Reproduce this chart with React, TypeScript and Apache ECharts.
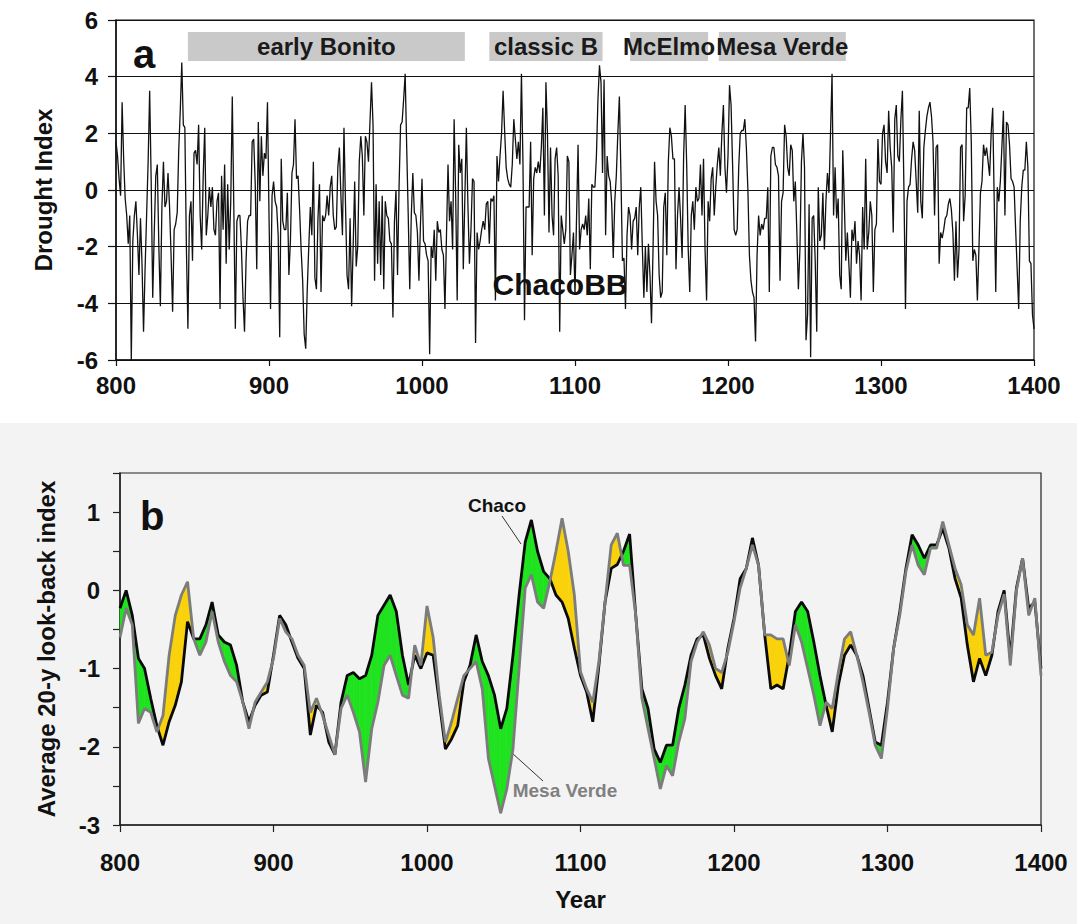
import React, { useEffect, useRef } from 'react';
import * as echarts from 'echarts';

const FONT = "'Liberation Sans', Arial, Helvetica, sans-serif";

// ---------- Panel a: annual drought index (ChacoBB), 800–1400 ----------
const droughtStartYear = 800;
const droughtIndex: number[] = [
  1.7, 1.2, 0.4, -0.2, 3.1, 1.1, -0.3, -0.9, -1.9, -0.9,
  -6.0, -1.8, -0.9, -0.4, -1.6, -3.0, -1.0, -2.6, -5.0, -2.8,
  -0.9, 1.0, 3.5, 0.3, -3.8, -1.5, 0.5, 0.9, -2.0, -4.1,
  -0.6, 1.0, -0.6, -0.4, 0.6, -0.6, -2.3, -4.3, -1.4, -1.2,
  -0.8, 1.4, 2.8, 4.5, 2.3, 2.2, -2.0, -4.9, -0.9, -0.4,
  -2.5, 1.3, 1.4, 0.9, 2.3, -0.9, -2.1, 0.5, 2.2, -1.6,
  -0.9, 0.1, -0.6, 0.1, -1.4, -1.6, -0.4, -0.1, -4.2, 0.5,
  -1.4, 0.9, -2.6, 0.2, -2.1, -0.4, 3.3, -0.6, -4.9, -1.1,
  -0.9, -0.9, -2.1, -3.8, -5.0, -2.5, -1.1, -0.9, -0.9, 1.7,
  1.8, 0.2, -2.8, 2.4, -0.4, 1.9, 0.5, 1.3, 1.1, 3.1,
  -0.9, -4.2, -0.2, 0.3, -0.4, -0.6, -1.6, -5.2, 1.1, -1.1,
  -1.4, -1.4, -0.1, -3.0, -1.8, 0.6, 0.9, 2.5, 0.4, 0.5,
  -0.7, -2.1, -3.2, -5.1, -5.6, -3.5, -2.0, -0.6, -1.6, 1.0,
  -3.1, -3.5, -1.0, 0.2, -3.6, -0.9, -1.1, -0.9, -0.2, -0.9,
  0.1, 0.5, -0.9, -1.4, -1.3, 0.8, 1.5, -0.2, -1.6, 2.2,
  -0.5, -3.0, -3.5, -1.0, -4.1, -2.0, 0.3, -2.7, -2.0, 1.0,
  1.9, 1.2, -0.9, 1.9, 1.7, 1.0, 2.4, 3.8, 2.3, -3.2,
  0.2, -2.6, -0.4, -3.0, -0.2, -3.5, -0.4, -0.9, -1.0, -1.8,
  -1.9, -4.5, -1.1, 0.0, -3.0, 0.1, 2.3, 2.4, 3.2, 4.1,
  1.5, -0.9, -3.5, -0.9, 0.6, -0.8, -0.9, -1.5, -3.2, -1.2,
  0.4, -1.8, -1.9, -2.3, -2.5, -5.8, -2.0, -2.4, -1.4, -3.2,
  -1.1, -1.5, -1.4, -2.1, -2.3, -4.2, -1.6, 0.9, -1.1, -0.4,
  -2.1, 2.5, -0.2, -3.9, 1.6, 0.6, 1.1, -2.8, -0.3, 2.2,
  -0.5, -2.6, -1.4, 0.4, 0.3, -5.4, -1.5, -2.1, -1.8, -1.4,
  -1.1, -1.4, -0.5, -0.4, -1.9, -0.3, -0.4, -0.2, -3.9, 1.2,
  0.3, 1.2, 2.0, 3.5, 2.1, 0.8, 0.4, 0.2, 0.1, 0.9,
  2.5, 1.8, 1.1, 1.7, 0.9, 4.1, 0.9, -4.6, -0.6, -0.6,
  -0.6, 1.7, -2.3, 0.4, 0.8, 0.6, 1.0, 0.6, 1.5, 2.9,
  -0.9, 3.8, 2.0, -1.5, 1.5, -0.9, -1.6, 1.1, 1.5, 0.5,
  -5.0, -0.9, -1.4, -1.9, -1.4, 1.2, 1.0, -3.0, -2.3, -1.5,
  -3.7, -1.0, 1.6, -2.1, -1.4, -1.2, -1.4, -0.9, -1.6, -0.3,
  -2.8, 0.2, 0.1, 0.1, 1.2, 3.2, 4.4, 3.8, 0.6, 3.9,
  -1.6, 1.2, 0.5, 0.3, -0.5, -2.4, -0.4, 0.5, 2.0, 3.3,
  0.6, -2.5, -2.4, -4.2, -1.6, -0.6, -0.9, -2.1, -1.1, -1.0,
  -0.6, -2.3, -0.6, 0.1, -2.0, -3.8, -2.0, -3.6, -1.9, -3.0,
  -4.7, -2.1, 1.0, -0.4, -0.9, -3.0, -3.8, -3.6, -0.6, -0.1,
  -2.3, 1.0, 2.2, 1.9, 1.1, 1.1, -2.8, -0.9, 0.1, -1.0,
  -2.4, 1.2, 3.0, 0.9, -2.1, -3.6, -0.9, -0.4, -1.4, 0.1,
  -0.4, -0.3, 0.9, -0.9, 1.1, -2.1, -3.9, -0.4, -1.1, 0.4,
  0.8, -0.9, 0.1, 0.9, 1.5, 0.5, 2.0, 3.0, 0.8, -0.1,
  1.2, 3.7, 3.0, 0.9, -1.4, -1.6, -1.4, 0.8, 2.0, 2.1,
  2.1, 2.5, 1.5, 0.0, -2.3, -3.2, -3.6, -3.8, -5.35, -2.3,
  -0.9, -1.6, -1.2, -1.4, -1.0, -1.0, 0.1, -3.6, 1.2, 1.5,
  1.5, 0.9, 0.8, 0.5, -3.2, -0.4, -0.1, 2.3, 1.9, 0.8,
  0.5, 1.6, 1.4, -0.4, 0.3, -1.5, -3.5, -2.1, 1.0, 2.0,
  0.8, -5.3, -4.4, -0.5, -5.9, -1.0, -0.9, -2.5, -5.0, 0.1,
  -1.8, -1.6, -0.1, -2.1, -0.4, 0.6, -0.1, 2.0, 4.1, -0.9,
  0.8, -1.0, -0.3, -3.0, -3.5, 1.4, -0.4, -2.5, -1.5, -2.6,
  -3.8, -1.4, -1.8, -1.1, -2.6, -1.8, -2.3, -3.9, -0.6, -2.1,
  1.1, -2.1, -1.5, -0.4, -0.9, -3.6, -1.4, -1.2, 1.8, 0.3,
  0.2, 2.0, 2.3, 1.0, 0.6, 2.8, 1.5, 0.8, -1.5, 2.5,
  3.0, 1.2, 1.0, 2.5, 3.5, 0.0, -4.2, -0.4, 0.1, 0.2,
  1.1, 1.7, 1.4, 0.3, -0.8, 2.8, -0.4, -1.0, 1.5, 2.1,
  2.6, 2.9, 3.1, 2.6, 1.7, -0.9, 1.5, 1.6, -2.6, -1.5,
  -1.7, -1.4, -1.0, -0.9, -0.5, -0.3, -0.7, -1.5, -3.2, -1.1,
  -3.1, -2.1, 1.5, 1.6, -1.1, -0.2, 2.9, 2.9, 3.6, 1.7,
  -2.5, -2.1, -2.3, -3.9, -2.1, -0.1, 0.3, 1.6, 1.2, 1.5,
  1.0, 0.5, 2.0, 2.9, -0.4, -3.6, 0.1, -0.4, 0.3, 1.5,
  2.8, -0.9, 2.4, 2.3, 1.6, 0.4, 0.3, 0.1, -1.4, -2.8,
  -4.2, -1.1, 0.1, 0.7, 0.7, 1.7, 0.8, -2.5, -2.6, -4.4,
  -4.9,
];

// Cultural periods (bars in panel a)
const periodNames = ['early Bonito', 'classic B', 'McElmo', 'Mesa Verde'];
const periodStart = [847, 1044, 1136, 1194];
const periodEnd = [1028, 1118, 1187, 1277];
const periodBand = [4.55, 5.58]; // drought-index range occupied by the period bars

// ---------- Panel b: 20-y look-back averages, every 4 years ----------
const lookbackStartYear = 800;
const lookbackStep = 4;
const chacoLookback: number[] = [
  -0.23, 0.0, -0.32, -0.87, -1.0, -1.38, -1.73, -1.98, -1.68, -1.47,
  -1.17, -0.4, -0.62, -0.62, -0.44, -0.15, -0.57, -0.66, -0.7, -0.96,
  -1.43, -1.68, -1.47, -1.34, -1.3, -0.83, -0.32, -0.44, -0.66, -0.87,
  -1.0, -1.85, -1.47, -1.56, -1.94, -2.1, -1.43, -1.09, -1.05, -1.13,
  -1.09, -0.83, -0.32, -0.19, -0.06, -0.27, -0.83, -1.21, -0.83, -1.0,
  -0.8, -0.83, -1.43, -2.03, -1.9, -1.73, -1.17, -0.96, -0.57, -0.91,
  -1.09, -1.34, -1.77, -1.51, -0.83, -0.06, 0.62, 0.9, 0.5, 0.24,
  0.15, -0.06, -0.15, -0.36, -0.74, -1.09, -1.3, -1.68, -0.96, -0.15,
  0.28, 0.33, 0.5, 0.72, -0.32, -1.26, -1.51, -2.03, -2.2, -1.98,
  -1.98, -1.51, -1.21, -0.83, -0.62, -0.57, -0.87, -1.09, -1.26, -0.74,
  -0.36, 0.15, 0.28, 0.67, 0.32, -0.57, -1.26, -1.21, -1.26, -0.83,
  -0.27, -0.15, -0.27, -0.66, -1.09, -1.47, -1.81, -1.21, -0.83, -0.7,
  -0.83, -1.09, -1.51, -1.94, -1.98, -1.43, -0.74, -0.27, 0.28, 0.71,
  0.58, 0.41, 0.58, 0.58, 0.79, 0.54, 0.15, -0.1, -0.7, -1.17,
  -0.87, -1.09, -0.83, -0.27, 0.0, -0.87, 0.03, 0.41, -0.23, -0.15,
  -1.0,
];
const mesaVerdeLookback: number[] = [
  -0.6, -0.23, -0.44, -1.7, -1.51, -1.56, -1.81, -1.6, -0.83, -0.32,
  -0.06, 0.11, -0.62, -0.83, -0.66, -0.27, -0.66, -0.91, -1.09, -1.17,
  -1.43, -1.77, -1.43, -1.3, -1.17, -0.87, -0.36, -0.53, -0.62, -0.83,
  -0.96, -1.56, -1.38, -1.6, -1.85, -2.1, -1.51, -1.34, -1.56, -1.81,
  -2.45, -1.77, -1.43, -0.96, -0.83, -1.09, -1.34, -1.38, -0.7, -0.96,
  -0.2, -0.6, -1.34, -1.94, -1.68, -1.38, -1.09, -1.0, -0.91, -1.26,
  -2.15, -2.5, -2.85, -2.54, -2.03, -1.0, 0.03, 0.2, -0.15, -0.23,
  0.11, 0.5, 0.92, 0.5, -0.06, -1.04, -1.26, -1.43, -0.91, -0.15,
  0.58, 0.73, 0.32, 0.32, -0.32, -1.38, -1.77, -2.15, -2.54, -2.24,
  -2.37, -1.94, -1.64, -0.91, -0.66, -0.53, -0.7, -1.0, -1.05, -0.79,
  -0.4, 0.03, 0.28, 0.58, 0.32, -0.57, -0.57, -0.62, -0.62, -0.96,
  -0.44, -0.66, -1.0, -1.34, -1.73, -1.43, -1.51, -1.04, -0.62, -0.53,
  -0.83, -1.17, -1.56, -1.98, -2.15, -1.51, -0.74, -0.32, 0.24, 0.58,
  0.32, 0.2, 0.54, 0.54, 0.88, 0.58, 0.28, 0.07, -0.44, -0.57,
  -0.1, -0.83, -0.79, -0.32, -0.05, -0.96, 0.0, 0.41, -0.32, -0.1,
  -1.09,
];

const GREEN = '#1fe31f';
const YELLOW = '#f9d20c';

const boldLabel = { fontFamily: FONT, fontWeight: 'bold' as const, fontSize: 24, color: '#111' };
const plainNumber = (v: number) => String(v);

export default function App() {
  const ref = useRef<HTMLDivElement>(null);

  useEffect(() => {
    if (!ref.current) return;
    const chart = echarts.init(ref.current, undefined, { renderer: 'svg' });

    const topData = droughtIndex.map((v, i) => [droughtStartYear + i, v]);
    const lbYears = chacoLookback.map((_, i) => lookbackStartYear + i * lookbackStep);
    const chacoData = chacoLookback.map((v, i) => [lbYears[i], v]);
    const mesaData = mesaVerdeLookback.map((v, i) => [lbYears[i], v]);
    const fillData: number[][] = [];
    for (let i = 0; i < lbYears.length - 1; i++) {
      fillData.push([
        lbYears[i], chacoLookback[i], mesaVerdeLookback[i],
        lbYears[i + 1], chacoLookback[i + 1], mesaVerdeLookback[i + 1],
      ]);
    }

    const option: any = {
      animation: false,
      textStyle: { fontFamily: FONT },
      grid: [
        { left: 116, top: 20, width: 918, height: 340, show: true, borderColor: '#111', borderWidth: 1.2, backgroundColor: '#ffffff' },
        { left: 120, top: 473, width: 921, height: 352, show: true, borderColor: '#222', borderWidth: 1.2, backgroundColor: 'transparent' },
      ],
      xAxis: [
        {
          gridIndex: 0, type: 'value', min: 800, max: 1400, interval: 100,
          axisLine: { onZero: false, lineStyle: { color: '#111', width: 1.5 } },
          axisTick: { show: true, length: 6, lineStyle: { color: '#111', width: 1.2 } },
          axisLabel: { ...boldLabel, margin: 13, formatter: plainNumber },
          splitLine: { show: false },
        },
        {
          gridIndex: 1, type: 'value', min: 800, max: 1400, interval: 100,
          axisLine: { onZero: false, lineStyle: { color: '#222', width: 1.5 } },
          axisTick: { show: true, length: 7, lineStyle: { color: '#222', width: 1.2 } },
          axisLabel: { ...boldLabel, margin: 25, formatter: plainNumber },
          splitLine: { show: false },
          name: 'Year', nameLocation: 'middle', nameGap: 62,
          nameTextStyle: { ...boldLabel },
        },
      ],
      yAxis: [
        {
          gridIndex: 0, type: 'value', min: -6, max: 6, interval: 2,
          axisLine: { show: true, onZero: false, lineStyle: { color: '#111', width: 1.5 } },
          axisTick: { show: true, length: 8, lineStyle: { color: '#111', width: 1.2 } },
          axisLabel: { ...boldLabel, margin: 18, formatter: plainNumber },
          splitLine: { show: true, lineStyle: { color: '#111', width: 1 } },
          name: 'Drought Index', nameLocation: 'middle', nameGap: 61, nameRotate: 90,
          nameTextStyle: { ...boldLabel },
        },
        {
          gridIndex: 1, type: 'value', min: -3, max: 1.5, interval: 0.5,
          axisLine: { show: true, onZero: false, lineStyle: { color: '#222', width: 1.5 } },
          axisTick: { show: true, length: 7, lineStyle: { color: '#222', width: 1.2 } },
          axisLabel: {
            ...boldLabel, margin: 20,
            formatter: (v: number) => (Number.isInteger(v) ? String(v) : ''),
          },
          splitLine: { show: false },
          name: 'Average 20-y look-back index', nameLocation: 'middle', nameGap: 62, nameRotate: 90,
          nameTextStyle: { ...boldLabel },
        },
      ],
      series: [
        {
          type: 'line', xAxisIndex: 0, yAxisIndex: 0, data: topData,
          showSymbol: false, symbol: 'none',
          lineStyle: { color: '#111', width: 1.3 },
          z: 3,
          markArea: {
            silent: true,
            itemStyle: { color: '#c9c9c9', opacity: 1 },
            label: { show: true, position: 'inside', ...boldLabel, color: '#1a1a1a' },
            data: periodNames.map((n, i) => [
              { name: n, xAxis: periodStart[i], yAxis: periodBand[1] },
              { xAxis: periodEnd[i], yAxis: periodBand[0] },
            ]),
          },
        },
        {
          type: 'custom', xAxisIndex: 1, yAxisIndex: 1, data: fillData, silent: true, z: 2,
          encode: { x: [0, 3], y: [1, 2, 4, 5] },
          renderItem: (params: any, api: any) => {
            const x0 = api.value(0), c0 = api.value(1), m0 = api.value(2);
            const x1 = api.value(3), c1 = api.value(4), m1 = api.value(5);
            const d0 = c0 - m0, d1 = c1 - m1;
            const P = (x: number, y: number) => api.coord([x, y]);
            const poly = (pts: number[][], up: boolean) => ({
              type: 'polygon',
              shape: { points: pts },
              style: { fill: up ? GREEN : YELLOW, stroke: up ? GREEN : YELLOW, lineWidth: 0.6 },
            });
            const children: any[] = [];
            if (d0 * d1 >= 0) {
              children.push(poly([P(x0, c0), P(x1, c1), P(x1, m1), P(x0, m0)], d0 + d1 >= 0));
            } else {
              const t = d0 / (d0 - d1);
              const xc = x0 + t * (x1 - x0);
              const yc = c0 + t * (c1 - c0);
              children.push(poly([P(x0, c0), P(xc, yc), P(x0, m0)], d0 > 0));
              children.push(poly([P(xc, yc), P(x1, c1), P(x1, m1)], d1 > 0));
            }
            return { type: 'group', children };
          },
        },
        {
          type: 'line', name: 'Chaco', xAxisIndex: 1, yAxisIndex: 1, data: chacoData,
          showSymbol: false, symbol: 'none', z: 3,
          lineStyle: { color: '#0a0a0a', width: 2.8 },
        },
        {
          type: 'line', name: 'Mesa Verde', xAxisIndex: 1, yAxisIndex: 1, data: mesaData,
          showSymbol: false, symbol: 'none', z: 4,
          lineStyle: { color: '#7c7c7c', width: 2.8 },
        },
      ],
      graphic: [
        { type: 'text', x: 133, y: 54, style: { text: 'a', fontFamily: FONT, fontWeight: 'bold', fontSize: 40, fill: '#111', textAlign: 'left', textVerticalAlign: 'middle' } },
        { type: 'text', x: 560, y: 284, style: { text: 'ChacoBB', fontFamily: FONT, fontWeight: 'bold', fontSize: 30, fill: '#111', textAlign: 'center', textVerticalAlign: 'middle' } },
        { type: 'text', x: 140, y: 516, style: { text: 'b', fontFamily: FONT, fontWeight: 'bold', fontSize: 40, fill: '#111', textAlign: 'left', textVerticalAlign: 'middle' } },
        { type: 'text', x: 497, y: 505, style: { text: 'Chaco', fontFamily: FONT, fontWeight: 'bold', fontSize: 19, fill: '#111', textAlign: 'center', textVerticalAlign: 'middle' } },
        { type: 'line', shape: { x1: 502, y1: 516, x2: 521, y2: 544 }, style: { stroke: '#333', lineWidth: 1 } },
        { type: 'text', x: 565, y: 790, style: { text: 'Mesa Verde', fontFamily: FONT, fontWeight: 'bold', fontSize: 19, fill: '#808080', textAlign: 'center', textVerticalAlign: 'middle' } },
        { type: 'line', shape: { x1: 512, y1: 753, x2: 543, y2: 781 }, style: { stroke: '#333', lineWidth: 1 } },
      ],
    };

    chart.setOption(option);
    return () => chart.dispose();
  }, []);

  return (
    <div
      ref={ref}
      style={{
        position: 'absolute', left: 0, top: 0, width: 1077, height: 924,
        background: 'linear-gradient(#ffffff 0px, #ffffff 423px, #f3f3f3 423px, #f3f3f3 924px)',
      }}
    />
  );
}
